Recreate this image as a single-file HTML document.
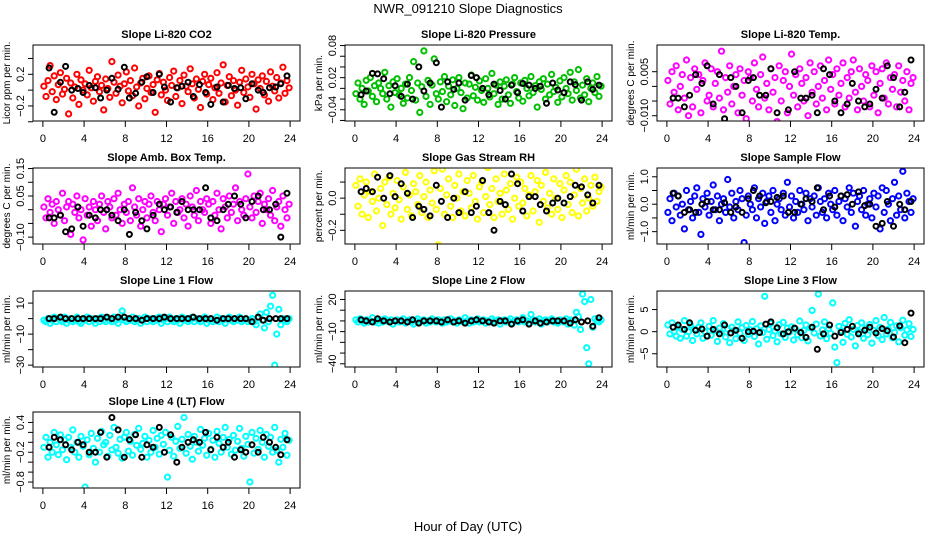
<!DOCTYPE html>
<html><head><meta charset="utf-8"><style>
html,body{margin:0;padding:0;background:#fff;}
svg{display:block;font-family:"Liberation Sans",sans-serif;}
</style></head><body>
<svg id="chart" width="936" height="540" viewBox="0 0 936 540">
<rect x="0" y="0" width="936" height="540" fill="#fff"/>
<text x="468" y="13" text-anchor="middle" font-size="13">NWR_091210  Slope Diagnostics</text>
<text x="468" y="531" text-anchor="middle" font-size="13">Hour of Day (UTC)</text>
</svg>
<script>
const hours = [0.1,0.3,0.5,0.7,0.9,1.1,1.3,1.5,1.7,1.9,2.1,2.3,2.5,2.7,2.9,3.1,3.3,3.5,3.7,3.9,4.1,4.3,4.5,4.7,4.9,5.1,5.3,5.5,5.7,5.9,6.1,6.3,6.5,6.7,6.9,7.1,7.3,7.5,7.7,7.9,8.1,8.3,8.5,8.7,8.9,9.1,9.3,9.5,9.7,9.9,10.1,10.3,10.5,10.7,10.9,11.1,11.3,11.5,11.7,11.9,12.1,12.3,12.5,12.7,12.9,13.1,13.3,13.5,13.7,13.9,14.1,14.3,14.5,14.7,14.9,15.1,15.3,15.5,15.7,15.9,16.1,16.3,16.5,16.7,16.9,17.1,17.3,17.5,17.7,17.9,18.1,18.3,18.5,18.7,18.9,19.1,19.3,19.5,19.7,19.9,20.1,20.3,20.5,20.7,20.9,21.1,21.3,21.5,21.7,21.9,22.1,22.3,22.5,22.7,22.9,23.1,23.3,23.5,23.7,23.9];
const blackHours = [0.6,1.1,1.7,2.2,2.8,3.4,3.9,4.5,5.1,5.6,6.2,6.7,7.3,7.9,8.4,9.0,9.6,10.1,10.7,11.3,11.8,12.4,13.0,13.5,14.1,14.6,15.2,15.8,16.3,16.9,17.5,18.0,18.6,19.2,19.7,20.3,20.9,21.4,22.0,22.6,23.1,23.7];
const xTicks = [0,4,8,12,16,20,24];

const co2 = [0.05,-0.08,0.12,0.31,-0.02,0.18,-0.12,0.07,0.22,-0.05,0.01,0.15,-0.3,0.09,-0.1,0.04,0.2,-0.18,0.13,0.0,0.08,-0.06,0.25,0.03,-0.14,0.11,0.17,-0.02,0.06,-0.25,0.14,0.02,-0.09,0.36,0.1,-0.04,0.19,0.05,-0.16,0.08,0.23,-0.01,0.12,-0.07,0.28,0.04,-0.2,0.09,0.15,-0.11,0.02,0.18,-0.03,0.07,-0.28,0.13,0.21,-0.06,0.1,0.0,-0.13,0.16,0.06,0.24,-0.08,0.03,0.12,-0.17,0.19,0.05,-0.02,0.27,0.08,-0.1,0.14,0.01,-0.22,0.11,0.2,-0.05,0.07,0.15,-0.12,0.03,0.22,-0.04,0.09,0.32,-0.15,0.06,0.17,-0.07,0.12,0.0,-0.19,0.1,0.25,-0.03,0.14,0.04,-0.09,0.2,0.08,-0.24,0.13,0.02,0.18,-0.06,0.11,-0.14,0.23,0.05,-0.01,0.16,-0.1,0.09,0.29,-0.04,0.12,0.03];
const co2Black = [0.28,-0.28,0.1,0.3,0.0,0.02,-0.03,0.06,0.03,-0.1,0.0,0.15,0.01,0.29,-0.1,-0.04,0.1,0.17,-0.03,0.2,0.04,-0.15,0.03,0.05,0.1,-0.08,0.07,-0.03,-0.18,0.04,-0.15,0.06,0.02,0.03,-0.11,0.08,0.0,-0.03,0.03,0.04,0.08,0.18];

const pressure = [-0.01,0.01,-0.02,0.0,-0.03,0.015,-0.005,0.02,-0.015,0.005,-0.025,0.01,0.0,-0.01,0.03,-0.02,0.005,-0.035,0.012,-0.008,0.018,-0.012,0.0,-0.028,0.008,-0.018,0.02,-0.004,0.05,-0.022,0.01,-0.045,0.003,0.07,-0.015,0.015,-0.03,0.006,0.055,-0.01,-0.02,0.012,-0.006,0.022,-0.025,0.004,-0.012,0.016,-0.032,0.0,0.02,-0.008,-0.038,0.01,-0.018,0.008,0.025,-0.014,0.002,-0.022,0.014,-0.004,-0.026,0.018,0.0,-0.016,0.028,-0.01,0.006,-0.03,0.012,-0.02,0.004,0.016,-0.012,-0.028,0.008,0.02,-0.006,-0.018,0.01,-0.024,0.015,0.0,-0.014,0.022,-0.008,0.005,-0.035,0.012,-0.002,0.018,-0.02,0.008,-0.012,0.026,-0.006,0.002,-0.026,0.014,-0.016,0.02,0.0,-0.01,0.03,-0.022,0.012,-0.004,0.035,-0.018,0.006,-0.012,0.018,-0.025,0.0,0.01,-0.008,0.022,-0.015,0.004];
const pressureBlack = [-0.012,-0.005,0.028,0.027,0.018,-0.01,0.005,-0.015,0.008,-0.02,0.04,-0.005,0.01,0.048,-0.035,0.012,-0.002,0.01,-0.022,0.024,0.02,0.0,-0.012,0.008,-0.004,-0.02,0.006,-0.008,0.009,0.006,0.0,0.004,-0.028,0.01,-0.003,-0.008,0.012,0.007,-0.022,0.012,-0.002,0.006];

const temp = [0.002,-0.006,0.005,-0.002,0.007,-0.008,0.0,0.004,-0.004,0.009,-0.01,0.003,-0.007,0.006,-0.001,0.004,-0.009,0.002,0.008,-0.005,-0.003,0.006,-0.007,0.001,0.005,-0.004,0.012,-0.008,0.003,-0.002,0.007,-0.006,0.0,0.004,-0.009,0.006,-0.003,0.002,-0.011,0.005,0.003,-0.005,0.008,-0.001,-0.007,0.004,0.01,-0.004,0.001,-0.008,0.006,-0.002,0.003,-0.012,0.007,-0.005,0.002,0.005,-0.009,0.0,0.011,-0.003,0.004,-0.007,0.006,0.001,-0.005,0.003,-0.01,0.008,-0.002,0.005,-0.006,0.0,0.007,-0.004,0.002,-0.008,0.009,-0.001,0.004,-0.006,0.006,-0.003,0.001,0.008,-0.007,0.003,-0.004,0.005,0.009,-0.002,-0.008,0.006,0.0,-0.005,0.004,0.002,-0.007,0.007,-0.003,0.005,-0.009,0.001,0.006,-0.004,0.008,-0.006,0.003,-0.001,0.004,-0.007,0.007,-0.002,0.002,-0.005,0.005,-0.008,0.001,0.003];
const tempBlack = [-0.004,-0.004,-0.007,-0.003,0.004,0.001,0.007,-0.006,0.004,-0.011,0.003,0.0,-0.009,0.002,0.003,-0.003,-0.003,0.006,-0.009,-0.013,-0.008,0.005,-0.004,-0.004,-0.003,-0.009,0.006,0.004,-0.005,-0.009,-0.006,0.001,-0.005,-0.007,-0.006,-0.001,-0.004,0.007,0.003,-0.007,-0.002,0.009];

const amb = [0.01,-0.03,0.04,-0.01,0.02,-0.05,0.03,0.0,-0.02,0.06,-0.04,0.01,0.03,-0.09,0.02,-0.01,0.05,-0.03,0.0,-0.11,0.04,-0.02,0.01,-0.06,0.03,0.0,-0.04,0.02,0.05,-0.01,-0.07,0.03,0.01,-0.03,0.04,-0.02,0.06,0.0,-0.05,0.02,-0.01,0.03,-0.04,0.08,0.01,-0.02,0.04,-0.06,0.0,0.03,-0.03,0.02,0.05,-0.01,-0.04,0.03,0.0,-0.08,0.02,0.04,-0.02,0.01,0.06,-0.05,0.03,-0.01,0.0,0.04,-0.03,0.02,-0.06,0.05,0.01,-0.02,0.07,-0.04,0.03,0.0,-0.01,0.04,0.02,-0.05,0.03,-0.02,0.06,0.0,-0.07,0.04,0.01,-0.03,0.05,-0.01,0.02,0.08,-0.04,0.03,0.0,-0.02,0.04,0.13,0.01,-0.03,0.05,-0.01,0.03,0.06,-0.05,0.02,0.0,0.04,-0.02,0.07,-0.04,0.01,0.03,-0.06,0.05,0.0,-0.03,0.02];
const ambBlack = [-0.03,-0.03,-0.02,-0.08,-0.07,0.01,-0.06,-0.02,-0.03,0.0,0.0,-0.02,-0.04,0.0,-0.09,-0.01,-0.04,-0.07,-0.02,0.02,0.0,0.01,-0.01,0.03,0.0,0.0,0.0,0.08,-0.03,-0.04,0.0,0.02,0.05,0.02,-0.03,0.03,0.05,0.0,0.0,0.02,-0.1,0.06];

const rh = [0.08,-0.05,0.12,-0.1,0.02,0.1,-0.12,0.04,-0.02,0.15,-0.08,0.0,0.06,-0.17,0.1,-0.04,0.13,-0.1,0.03,-0.06,0.11,-0.01,-0.13,0.07,0.16,-0.07,0.02,-0.11,0.09,0.04,-0.04,0.14,-0.09,0.01,0.1,-0.12,0.05,-0.03,0.17,-0.07,-0.29,0.06,0.18,-0.1,0.02,0.12,-0.05,-0.12,0.08,0.0,0.15,-0.08,0.04,-0.11,0.11,0.03,-0.06,0.14,-0.02,-0.13,0.07,0.1,-0.09,0.01,0.19,-0.04,0.06,-0.12,0.12,-0.02,0.03,-0.1,0.15,0.05,-0.07,0.09,-0.13,0.0,0.13,-0.05,0.1,-0.03,0.06,-0.11,0.02,0.14,-0.08,0.04,0.11,-0.15,0.08,-0.02,0.16,-0.06,0.03,-0.1,0.12,0.0,-0.07,0.09,-0.12,0.05,0.14,-0.04,0.1,-0.09,0.02,0.18,-0.11,0.06,-0.03,0.12,-0.08,0.0,0.08,-0.05,0.13,-0.02,0.04,0.07];
const rhBlack = [0.04,0.06,0.04,0.13,0.0,0.14,0.01,0.09,0.03,-0.12,-0.05,-0.07,-0.11,0.08,-0.02,-0.12,0.0,-0.09,0.04,-0.09,-0.05,0.11,-0.09,-0.2,-0.02,-0.04,0.15,0.09,-0.08,0.01,0.01,-0.04,-0.08,-0.03,0.0,-0.03,0.01,0.08,0.07,0.02,-0.03,0.08];

const sampleFlow = [-0.3,0.2,-0.6,0.4,-0.1,0.3,-0.4,0.0,-0.9,0.5,-0.2,0.1,-0.5,0.3,0.6,-0.3,-1.1,0.2,-0.1,0.4,-0.4,0.1,0.7,-0.2,0.3,-0.6,0.0,0.2,-0.3,0.9,-0.1,0.4,-0.5,0.1,-0.2,0.5,0.2,-1.4,-0.4,0.3,0.0,-0.2,0.6,-0.5,0.2,-0.1,0.4,-0.7,0.1,0.3,-0.3,0.5,-0.6,0.0,0.2,-0.2,0.4,-0.4,0.8,-0.1,0.3,-0.5,0.1,-0.3,0.5,0.0,-0.2,0.4,-0.6,0.2,-0.1,0.3,-0.4,0.6,0.1,-0.3,0.2,-0.5,0.4,0.0,-0.2,0.5,-0.4,0.1,0.3,-0.6,0.2,-0.1,0.6,-0.3,0.4,-0.8,0.1,0.3,-0.2,0.5,-0.4,0.0,0.2,-0.5,0.4,-0.1,0.3,-0.9,0.6,-0.3,0.5,0.0,-0.6,0.2,0.8,-0.4,0.3,-0.2,1.2,-0.5,0.4,0.1,-0.3,0.2];
const sampleFlowBlack = [0.4,0.3,-0.3,-0.2,-0.3,0.0,0.1,-0.2,-0.2,0.05,-0.3,-0.1,-0.3,0.2,0.5,0.3,0.05,0.1,0.25,0.3,-0.3,-0.3,0.0,0.2,0.1,0.6,-0.2,0.3,-0.1,0.3,0.35,0.0,0.45,-0.05,0.0,-0.8,-0.7,0.1,-0.8,0.0,-0.2,0.1];

const line1 = [-1,-2,0,-3,-1,1,-2,0,-1,-2,1,-3,-1,0,-2,-1,1,-2,-3,0,-1,1,-2,0,-1,-3,0,-2,1,-1,-2,0,-1,-2,1,-1,-3,0,5,-1,-2,0,-1,1,-2,-1,0,-3,-1,1,-2,0,-1,-2,0,-1,1,-3,-1,0,-2,1,-1,-2,0,-1,-3,1,-1,0,-2,-1,1,-2,0,-1,-2,0,1,-3,-1,0,-2,-1,1,-2,0,-1,-3,0,1,-1,-2,0,-1,1,-2,-1,0,-2,-1,0,-2,-4,1,3,-1,-6,4,-2,8,15,-30,-10,6,-4,0,-1,-2,0];
const line1Black = [0,0,1,0,0,0,0,0,0,0,1,0,1,1,0,0,-1,0,0,0,1,0,0,0,0,1,0,0,0,-1,0,0,0,0,0,-2,1,-1,0,0,0,0];

const line2 = [1,-1,2,0,-2,1,-1,0,3,-1,0,-2,1,-1,2,0,-1,1,-3,0,1,-1,0,2,-2,0,1,-1,-3,0,2,-1,0,1,-2,0,-1,2,0,-1,1,0,-2,1,-1,0,2,-1,0,-2,1,0,-1,3,0,-2,1,-1,0,2,-1,0,1,-2,0,-1,2,0,-1,1,-3,0,1,-1,0,2,-2,0,1,-1,0,3,-1,0,-2,6,1,-1,0,2,-3,0,1,-1,0,2,-1,0,-2,1,0,-1,2,-3,1,0,-4,8,4,-8,25,18,-25,-40,20,-6,2,0,-1,1];
const line2Black = [1,0,-1,2,0,-1,0,0,-1,1,-2,0,0,0,-1,1,-1,0,-2,0,1,0,-1,-2,0,0,-3,0,1,-3,0,-2,-1,0,0,0,-2,1,-1,0,-5,3];

const line3 = [1.5,-0.5,2,0,-1,1,-1.5,0.5,2.5,-1,0,1.5,-2,0.5,-0.5,1,2,-1.5,0,-1,1.2,-0.8,2.5,0.3,-2.2,0.8,-0.3,1.8,-1.2,0.6,-2.5,1,0.2,-1.6,2.2,-0.4,0.9,-2,1.4,-0.6,0.4,2.3,-1.1,0.7,-2.8,1.3,-0.2,8,-1.7,0.5,1.9,-0.9,0.1,-2.3,1.6,-0.5,2.1,-1.3,0.8,-0.1,1.1,-1.9,0.6,-0.7,2.4,-1.4,0.3,1.5,-2.1,0.9,4.8,-0.3,1.7,8.5,-1,0.4,2.2,-1.6,0.7,-0.4,6.5,-3.5,-7,1.2,0.2,-2.4,1.9,-0.6,2.7,-1.2,0.5,-3.2,1.4,-0.1,2,-1.5,0.8,-0.7,1.6,-2.6,0.3,2.5,-0.9,1,-1.8,3.2,-0.5,0.6,2.1,-1.4,-0.2,1.3,-2.3,0.9,2.6,-0.8,0.4,1.8,-1.1,0.5];
const line3Black = [1,1.5,0.5,2,0.3,0.6,-1,0.5,-0.5,1.5,-0.3,0.3,-1.5,0,0.1,-0.2,1.7,2.2,0.9,-0.5,0,0.8,-0.2,-1.3,1,-4,-0.5,1.5,-1,-0.2,0.5,1.2,-0.5,0.3,1,-0.3,0.7,0.2,-1.2,1.3,-2.5,4.2];

const line4 = [-0.1,0.1,-0.3,0.0,-0.2,0.2,-0.05,-0.25,0.15,-0.15,0.05,-0.35,0.1,-0.1,0.25,-0.2,0.0,-0.3,0.12,-0.08,-0.9,0.05,-0.25,0.18,-0.12,-0.4,0.08,-0.2,0.22,-0.05,0.0,-0.28,0.14,-0.15,0.3,-0.1,-0.22,0.06,-0.32,0.1,0.2,-0.18,0.02,-0.26,0.16,-0.06,0.28,-0.14,-0.02,0.12,-0.3,0.04,-0.2,0.24,-0.1,0.08,-0.24,0.14,-0.04,0.2,-0.7,-0.16,0.1,-0.28,0.02,0.32,-0.12,0.06,0.5,-0.22,0.16,-0.08,-0.34,0.12,0.0,-0.18,0.26,-0.06,0.08,-0.26,0.18,-0.14,0.04,-0.3,0.22,-0.02,-0.2,0.1,0.3,-0.1,0.06,-0.24,0.14,-0.16,0.02,0.28,-0.12,-0.28,0.12,-0.04,-0.8,0.2,-0.22,0.08,-0.14,0.24,0.0,-0.3,0.16,-0.08,0.1,-0.2,0.3,-0.16,-0.4,0.06,-0.1,0.18,-0.26,0.04];
const line4Black = [-0.1,0.1,0.05,-0.05,-0.15,0.0,-0.05,-0.2,-0.2,0.2,-0.3,0.5,0.25,-0.3,0.05,0.15,-0.3,-0.05,-0.1,0.3,-0.2,0.15,-0.4,-0.1,0.0,0.05,0.0,0.2,-0.15,0.1,-0.1,0.0,-0.3,-0.15,-0.2,-0.05,-0.2,0.1,0.0,-0.1,-0.25,0.05];

const co2Ticks = [-0.4,-0.2,0,0.2,0.4]; const co2Labels = ["","-0.2","","0.2",""];
const pressureTicks = [-0.06,-0.04,-0.02,0,0.02,0.04,0.06,0.08]; const pressureLabels = ["","-0.04","","","0.02","","","0.08"];
const tempTicks = [-0.01,-0.005,0,0.005]; const tempLabels = ["-0.010","","","0.005"];
const ambTicks = [-0.1,-0.05,0,0.05,0.1,0.15]; const ambLabels = ["-0.10","","","0.05","","0.15"];
const rhTicks = [-0.2,-0.1,0,0.1]; const rhLabels = ["-0.2","","0.0",""];
const sfTicks = [-1,-0.5,0,0.5,1]; const sfLabels = ["-1.0","","0.0","","1.0"];
const l1Ticks = [-30,-20,-10,0,10]; const l1Labels = ["-30","","-10","","10"];
const l2Ticks = [-40,-30,-20,-10,0,10,20]; const l2Labels = ["-40","","","-10","","","20"];
const l3Ticks = [-5,0,5]; const l3Labels = ["-5","0","5"];
const l4Ticks = [-0.8,-0.6,-0.4,-0.2,0,0.2,0.4]; const l4Labels = ["-0.8","","","-0.2","","","0.4"];

const panels = [
 {id:'co2',title:'Slope Li-820 CO2',ylab:'Licor ppm per min.',box:[33,300,45,121],dom:[-0.39,0.57],col:'#ff0000',v:co2,b:co2Black,t:co2Ticks,l:co2Labels},
 {id:'pressure',title:'Slope Li-820 Pressure',ylab:'kPa per min.',box:[345,612,45,121],dom:[-0.061,0.081],col:'#00c000',v:pressure,b:pressureBlack,t:pressureTicks,l:pressureLabels},
 {id:'temp',title:'Slope Li-820 Temp.',ylab:'degrees C per min.',box:[657,924,45,121],dom:[-0.0118,0.0141],col:'#ff00ff',v:temp,b:tempBlack,t:tempTicks,l:tempLabels},
 {id:'amb',title:'Slope Amb. Box Temp.',ylab:'degrees C per min.',box:[33,300,168,244],dom:[-0.125,0.152],col:'#ff00ff',v:amb,b:ambBlack,t:ambTicks,l:ambLabels},
 {id:'rh',title:'Slope Gas Stream RH',ylab:'percent per min.',box:[345,612,168,244],dom:[-0.285,0.1875],col:'#ffff00',v:rh,b:rhBlack,t:rhTicks,l:rhLabels},
 {id:'sample-flow',title:'Slope Sample Flow',ylab:'ml/min per min.',box:[657,924,168,244],dom:[-1.45,1.32],col:'#0000ff',v:sampleFlow,b:sampleFlowBlack,t:sfTicks,l:sfLabels},
 {id:'line1',title:'Slope Line 1 Flow',ylab:'ml/min per min.',box:[33,300,291,367],dom:[-31.2,17.8],col:'#00ffff',v:line1,b:line1Black,t:l1Ticks,l:l1Labels},
 {id:'line2',title:'Slope Line 2 Flow',ylab:'ml/min per min.',box:[345,612,291,367],dom:[-43,27.9],col:'#00ffff',v:line2,b:line2Black,t:l2Ticks,l:l2Labels},
 {id:'line3',title:'Slope Line 3 Flow',ylab:'ml/min per min.',box:[657,924,291,367],dom:[-8,9.2],col:'#00ffff',v:line3,b:line3Black,t:l3Ticks,l:l3Labels},
 {id:'line4',title:'Slope Line 4 (LT) Flow',ylab:'ml/min per min.',box:[33,300,412,488],dom:[-0.92,0.61],col:'#00ffff',v:line4,b:line4Black,t:l4Ticks,l:l4Labels}
];

const NS='http://www.w3.org/2000/svg';
const svg=document.getElementById('chart');
function mk(tag,attrs,parent){const e=document.createElementNS(NS,tag);for(const k in attrs)e.setAttribute(k,attrs[k]);parent.appendChild(e);return e;}

panels.forEach(p=>{
  const [x0,x1,y0,y1]=p.box;
  const xs=h=>x0+(h+0.96)/25.92*(x1-x0);
  const ys=v=>y1-(v-p.dom[0])/(p.dom[1]-p.dom[0])*(y1-y0);
  const g=mk('g',{},svg);
  
  
  const clip=mk('clipPath',{id:'clip-'+p.id},g);
  mk('rect',{x:x0,y:y0,width:x1-x0,height:y1-y0},clip);
  const pts=mk('g',{'clip-path':'url(#clip-'+p.id+')',fill:'none','stroke-width':2},g);
  
  
  p.v.forEach((v,i)=>{
    const c=mk('circle',{cx:xs(hours[i]).toFixed(1),cy:ys(v).toFixed(1),r:2.6,stroke:p.col},pts);
    
    
  });
  p.b.forEach((v,i)=>{
    const c=mk('circle',{cx:xs(blackHours[i]).toFixed(1),cy:ys(v).toFixed(1),r:2.5,stroke:'#000'},pts);
    
    
  });
  const box=mk('rect',{x:x0,y:y0,width:x1-x0,height:y1-y0,fill:'none',stroke:'#000','stroke-width':1},g);
  
  
  const t=mk('text',{x:(x0+x1)/2,y:y0-7,'text-anchor':'middle','font-size':11,'font-weight':'bold'},g);
  t.textContent=p.title;
  
  
  xTicks.forEach(h=>{
    const x=xs(h);
    const tk=mk('line',{x1:x,x2:x,y1:y1,y2:y1+6,stroke:'#000'},g);
    
    
    const lb=mk('text',{x:x,y:y1+21,'text-anchor':'middle','font-size':11},g);
    lb.textContent=h;
    
    
  });
  p.t.forEach((v,i)=>{
    const y=ys(v);
    if(y<y0-1||y>y1+1)return;
    const tk=mk('line',{x1:x0-5,x2:x0,y1:y,y2:y,stroke:'#000'},g);
    
    
    if(p.l[i]){
      const lb=mk('text',{x:0,y:0,'text-anchor':'middle','font-size':11,transform:'translate('+(x0-9)+','+y+') rotate(-90)'},g);
      lb.textContent=p.l[i].replace('-','\u2212');
      
      
    }
  });
  const yl=mk('text',{x:0,y:0,'text-anchor':'middle','font-size':10,transform:'translate('+(x0-23)+','+((y0+y1)/2)+') rotate(-90)'},g);
  yl.textContent=p.ylab;
  
  
});
</script>
</body></html>
